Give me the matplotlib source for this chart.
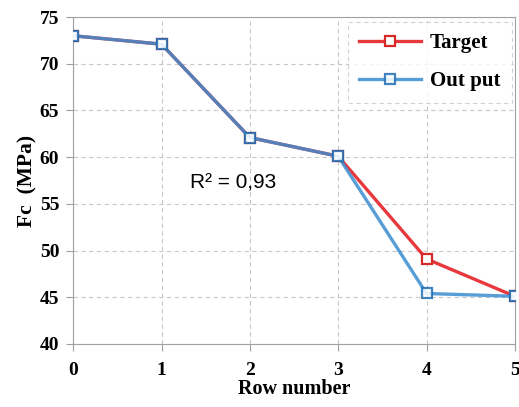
import numpy as np
import matplotlib.pyplot as plt

rows = [0, 1, 2, 3, 4, 5]
target = [73.0, 72.1, 62.1, 60.1, 49.1, 45.1]
output = [73.0, 72.1, 62.1, 60.1, 45.4, 45.1]

serif = ['Liberation Serif', 'DejaVu Serif']

fig = plt.figure(figsize=(5.19, 4.07), dpi=100)
ax = fig.add_axes([0.141, 0.155, 0.851, 0.803])

ax.plot(rows, target, color='#e8383d', lw=2.4, marker='s', ms=7,
        mfc='white', mec='#d62a2a', mew=1.6, label='Target', zorder=3)
ax.plot(rows, output, color='#3a8ccf', lw=2.4, marker='s', ms=7,
        mfc='white', mec='#1f6db3', mew=1.6, label='Out put', alpha=0.85, zorder=4)

ax.set_xlim(0, 5)
ax.set_ylim(40, 75)
ax.set_xticks(rows)
ax.set_yticks(np.arange(40, 76, 5))
ax.grid(True, ls=(0, (4, 3)), color='#c8c8c8', lw=0.8)
for s in ax.spines.values():
    s.set_color('#a0a0a0')
ax.tick_params(axis='x', length=5, color='#a0a0a0', pad=8)
ax.tick_params(axis='y', length=5, color='#a0a0a0', pad=5)
for lab in ax.get_xticklabels() + ax.get_yticklabels():
    lab.set_family(serif)
    lab.set_fontweight('bold')
    lab.set_fontsize(14)

ax.set_xlabel('Row number', family=serif, fontweight='bold', fontsize=14.5, labelpad=0)
ax.set_ylabel('Fc  (MPa)', family=serif, fontweight='bold', fontsize=15.5, labelpad=2)

ax.text(1.32, 57.2, 'R² = 0,93', fontsize=15, family=['Liberation Sans', 'DejaVu Sans'],
        ha='left', va='center')

leg = ax.legend(loc='upper right', prop={'family': serif, 'weight': 'bold', 'size': 15},
                frameon=True, fancybox=False, borderpad=0.55, labelspacing=0.85,
                handlelength=3.0, handletextpad=0.4, borderaxespad=0,
                bbox_to_anchor=(0.993, 0.985))
leg.get_frame().set_linestyle((0, (4, 3)))
leg.get_frame().set_edgecolor('#c8c8c8')
leg.get_frame().set_linewidth(0.8)

fig.savefig('out.png', dpi=100)
